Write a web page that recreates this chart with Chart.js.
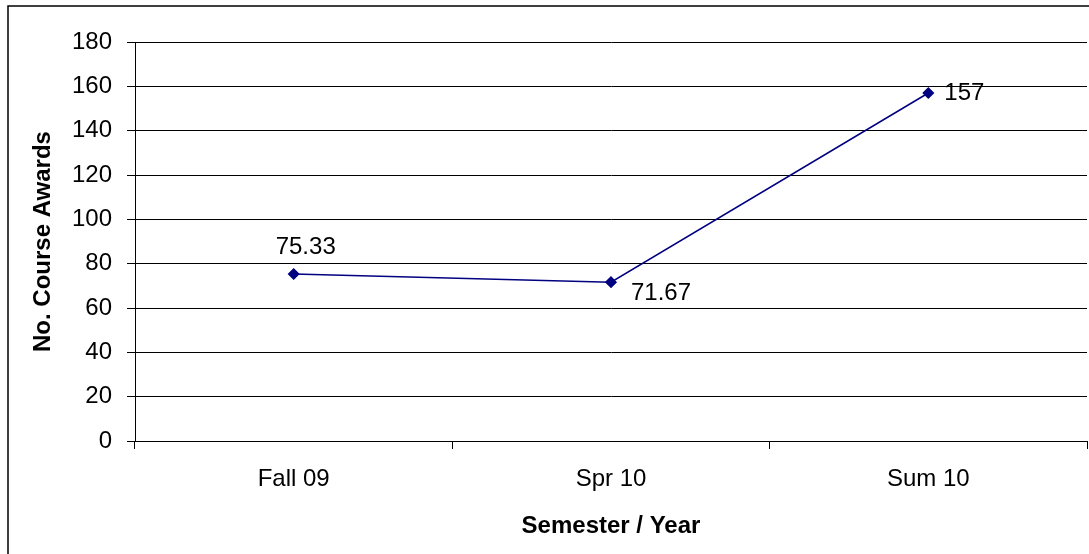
<!DOCTYPE html>
<html>
<head>
<meta charset="utf-8">
<script src="https://cdn.jsdelivr.net/npm/chart.js@4/dist/chart.umd.min.js"></script>
<style>
  body { margin: 0; background: #fff; }
  canvas { display: block; }
</style>
</head>
<body>
<canvas id="awardsChart" width="1089" height="554"></canvas>
<script>
const semesters = ['Fall 09', 'Spr 10', 'Sum 10'];
const courseAwards = [75.33, 71.67, 157];
const awardLabels = ['75.33', '71.67', '157'];
const yTicks = { min: 0, max: 180, step: 20 };

// label offsets next to each point: [dx, dy, align]
const labelPlacement = [[-18, -27, 'left'], [20, 11, 'left'], [16, 0, 'left']];

const FONT = '"Liberation Sans", Arial, sans-serif';

// frame around the whole chart (cut off on the right and bottom)
const outerFrame = {
  id: 'outerFrame',
  beforeDraw(chart) {
    const c = chart.ctx;
    c.save();
    c.fillStyle = '#fff';
    c.fillRect(0, 0, chart.width, chart.height);
    c.strokeStyle = '#000';
    c.lineWidth = 1.5;
    c.strokeRect(8, 6, 2000, 2000);
    c.restore();
  }
};

// value text beside each marker
const pointLabels = {
  id: 'pointLabels',
  afterDatasetsDraw(chart) {
    const c = chart.ctx;
    const meta = chart.getDatasetMeta(0);
    c.save();
    c.font = '24px ' + FONT;
    c.fillStyle = '#000';
    c.textBaseline = 'middle';
    meta.data.forEach((pt, i) => {
      const [dx, dy, align] = labelPlacement[i];
      c.textAlign = align;
      c.fillText(awardLabels[i], pt.x + dx, pt.y + dy);
    });
    c.restore();
  }
};

const ctx = document.getElementById('awardsChart').getContext('2d');
new Chart(ctx, {
  type: 'line',
  data: {
    labels: semesters,
    datasets: [{
      data: courseAwards,
      borderColor: '#000080',
      backgroundColor: '#000080',
      borderWidth: 1.5,
      pointStyle: 'rectRot',
      pointRadius: 5,
      pointHoverRadius: 5,
      tension: 0
    }]
  },
  options: {
    responsive: false,
    animation: false,
    events: [],
    layout: { autoPadding: false, padding: { top: 42, right: 2, left: 0, bottom: 0 } },
    plugins: {
      legend: { display: false },
      tooltip: { enabled: false }
    },
    scales: {
      x: {
        offset: true,
        afterFit(scale) { scale.height = 113; },
        grid: {
          offset: true,
          drawOnChartArea: false,
          drawTicks: true,
          tickLength: 8,
          color: '#000'
        },
        border: { display: true, color: '#000' },
        ticks: { color: '#000', padding: 16, font: { family: FONT, size: 24 } },
        title: {
          display: true,
          text: 'Semester / Year',
          color: '#000',
          font: { family: FONT, size: 24, weight: 'bold' },
          padding: { top: 0, bottom: 13 }
        }
      },
      y: {
        min: yTicks.min,
        max: yTicks.max,
        afterFit(scale) { scale.width = 135; },
        grid: { color: '#000', tickLength: 8, drawTicks: true },
        border: { display: true, color: '#000' },
        ticks: {
          stepSize: yTicks.step,
          color: '#000',
          padding: 15,
          font: { family: FONT, size: 24 }
        },
        title: {
          display: true,
          text: 'No. Course Awards',
          color: '#000',
          font: { family: FONT, size: 24, weight: 'bold' },
          padding: { top: 29, bottom: 0 }
        }
      }
    }
  },
  plugins: [outerFrame, pointLabels]
});
</script>
</body>
</html>
